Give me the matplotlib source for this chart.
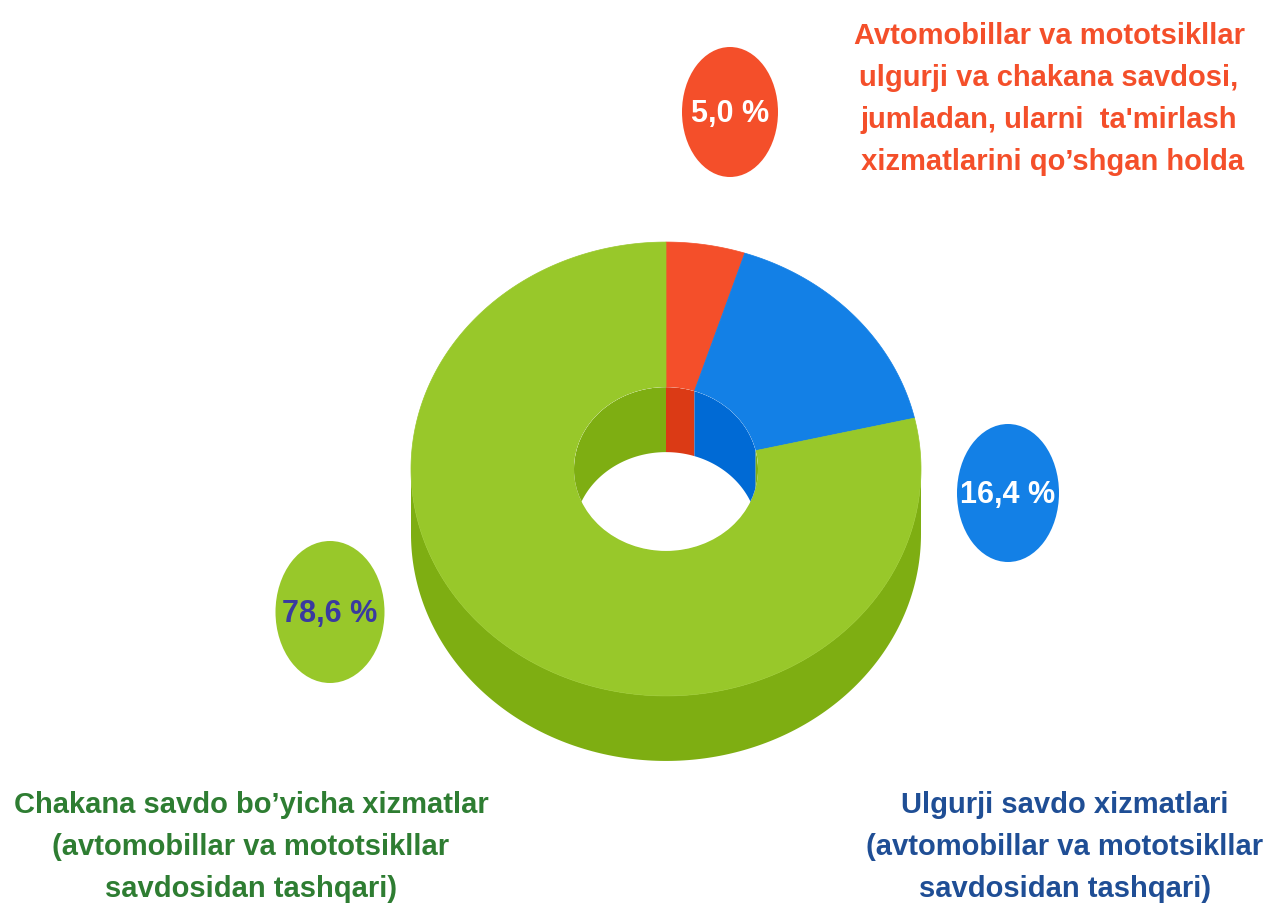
import matplotlib.pyplot as plt
import numpy as np
from matplotlib.patches import Polygon, Ellipse

# data
shares = [5.0, 16.4, 78.6]
share_labels = ["5,0 %", "16,4 %", "78,6 %"]
top_colors = ["#F44F2A", "#1380E6", "#98C82A"]
dark_colors = ["#DB3A15", "#006AD5", "#7EAE12"]
label_colors = ["#F44F2A", "#1F4E95", "#2E7D32"]
pct_colors = ["white", "white", "#3A3AA0"]
categories = [
    "Avtomobillar va mototsikllar\nulgurji va chakana savdosi,\njumladan, ularni  ta'mirlash\n xizmatlarini qo\u2019shgan holda",
    "Ulgurji savdo xizmatlari\n(avtomobillar va mototsikllar\nsavdosidan tashqari)",
    "Chakana savdo bo\u2019yicha xizmatlar\n(avtomobillar va mototsikllar\nsavdosidan tashqari)",
]

# layout (pixels, y down)
cx, cy = 666, 470
rx_out, rx_in = 255, 92
tilt = 0.89
depth = 65
bubbles = [(730, 113, 96, 130), (1008, 494, 102, 138), (330, 613, 109, 142)]
label_pos = [(1049, 99), (1065, 847), (251, 847)]

FONT = ["Liberation Sans", "DejaVu Sans"]


def ell(rx, theta, dy=0):
    return np.column_stack([cx + rx * np.cos(theta), cy - rx * tilt * np.sin(theta) + dy])


fig = plt.figure(figsize=(12.74, 9.12), dpi=100)
ax = fig.add_axes([0, 0, 1, 1])
ax.set_xlim(0, 1274)
ax.set_ylim(912, 0)
ax.axis("off")

# slice angles, clockwise from 12 o'clock
bounds = 90 - 360 * np.concatenate([[0], np.cumsum(shares)]) / sum(shares)
slices = [(np.deg2rad(bounds[i + 1]), np.deg2rad(bounds[i])) for i in range(len(shares))]

# outer side wall (front half only)
for (a1, a2), c in zip(slices, dark_colors):
    for k in range(-2, 2):
        lo, hi = max(a1, np.pi + 2 * np.pi * k), min(a2, 2 * np.pi + 2 * np.pi * k)
        if hi <= lo:
            continue
        t = np.linspace(lo, hi, 200)
        pts = np.vstack([ell(rx_out, t), ell(rx_out, t[::-1], depth)])
        ax.add_patch(Polygon(pts, closed=True, fc=c, ec="none", zorder=1))

# top face
for (a1, a2), c in zip(slices, top_colors):
    t = np.linspace(a1, a2, 300)
    pts = np.vstack([ell(rx_out, t), ell(rx_in, t[::-1])])
    ax.add_patch(Polygon(pts, closed=True, fc=c, ec=c, lw=0.5, zorder=2))

# inner wall (back half), clipped to the hole
hole = Ellipse((cx, cy), 2 * rx_in, 2 * rx_in * tilt, fc="white", ec="none", zorder=2)
ax.add_patch(hole)
for (a1, a2), c in zip(slices, dark_colors):
    for k in range(-2, 2):
        lo, hi = max(a1, 2 * np.pi * k), min(a2, np.pi + 2 * np.pi * k)
        if hi <= lo:
            continue
        t = np.linspace(lo, hi, 200)
        pts = np.vstack([ell(rx_in, t), ell(rx_in, t[::-1], depth)])
        p = Polygon(pts, closed=True, fc=c, ec="none", zorder=3)
        ax.add_patch(p)
        p.set_clip_path(hole)

# percentage bubbles
for (bx, by, bw, bh), c, txt, tc in zip(bubbles, top_colors, share_labels, pct_colors):
    ax.add_patch(Ellipse((bx, by), bw, bh, fc=c, ec="none", zorder=4))
    ax.text(bx, by + 1, txt, ha="center", va="center", color=tc, fontsize=22,
            fontweight="bold", family=FONT, zorder=5)

# category labels
for (lx, ly), txt, c in zip(label_pos, categories, label_colors):
    ax.text(lx, ly, txt, ha="center", va="center", color=c, fontsize=21,
            fontweight="bold", family=FONT, linespacing=1.64, zorder=5)

fig.savefig("out.png", dpi=100, facecolor="white")
